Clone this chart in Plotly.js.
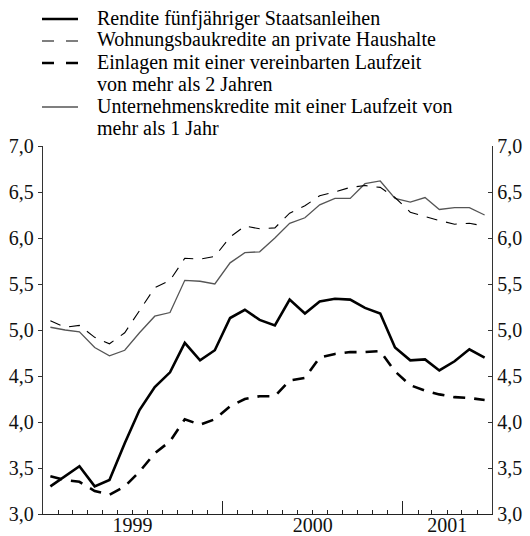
<!DOCTYPE html>
<html><head><meta charset="utf-8">
<script src="https://cdn.plot.ly/plotly-3.0.1.min.js"></script>
<style>html,body{margin:0;padding:0;background:#fff}#chart{width:530px;height:536px}</style>
</head><body><div id="chart"></div><script>
const months = ['1999-01-16','1999-02-15','1999-03-16','1999-04-16','1999-05-16','1999-06-16','1999-07-16','1999-08-16','1999-09-16','1999-10-16','1999-11-16','1999-12-16',
'2000-01-16','2000-02-15','2000-03-16','2000-04-16','2000-05-16','2000-06-16','2000-07-16','2000-08-16','2000-09-16','2000-10-16','2000-11-16','2000-12-16',
'2001-01-16','2001-02-15','2001-03-16','2001-04-16','2001-05-16','2001-06-16'];
const rendite = [3.30,3.41,3.52,3.30,3.37,3.77,4.13,4.38,4.54,4.86,4.67,4.78,5.13,5.22,5.11,5.05,5.33,5.18,5.31,5.34,5.33,5.24,5.18,4.81,4.67,4.68,4.56,4.66,4.79,4.70];
const wohnungsbau = [5.10,5.03,5.05,4.92,4.85,4.97,5.21,5.46,5.54,5.78,5.77,5.80,6.01,6.13,6.10,6.11,6.27,6.35,6.46,6.50,6.55,6.57,6.55,6.44,6.28,6.23,6.19,6.15,6.16,6.13];
const einlagen = [3.41,3.37,3.35,3.25,3.21,3.30,3.46,3.66,3.79,4.03,3.97,4.03,4.17,4.25,4.28,4.28,4.45,4.48,4.70,4.74,4.76,4.76,4.77,4.55,4.40,4.34,4.30,4.27,4.26,4.24];
const unternehmen = [5.03,5.00,4.98,4.81,4.72,4.78,4.97,5.15,5.19,5.54,5.53,5.50,5.73,5.84,5.85,6.00,6.16,6.22,6.36,6.43,6.43,6.59,6.62,6.43,6.39,6.44,6.31,6.33,6.33,6.25];
const yearLabels = ['1999','2000','2001'];
const yearLabelPos = ['1999-07-02','2000-07-02','2001-04-01'];
const yearStarts = ['1999-01-01','2000-01-01','2001-01-01'];
const quarterStarts = ['1999-04-01','1999-07-01','1999-10-01','2000-04-01','2000-07-01','2000-10-01','2001-04-01'];
const legendLines = [
  ['Rendite fünfjähriger Staatsanleihen'],
  ['Wohnungsbaukredite an private Haushalte'],
  ['Einlagen mit einer vereinbarten Laufzeit','von mehr als 2 Jahren'],
  ['Unternehmenskredite mit einer Laufzeit von','mehr als 1 Jahr']
];

const FONT = 'Liberation Serif, serif';
const W=530,H=536,L=43,R=38,T=146,B=22;
const pw=W-L-R, ph=H-T-B;
const px2x = p => (p-L)/pw;
const py2y = p => (H-B-p)/ph;
const XR = ['1999-01-01','2001-07-01'];

const styles = [
  {color:'#000', width:2.6, dash:'solid'},
  {color:'#000', width:1.1, dash:'11px,9px'},
  {color:'#000', width:2.6, dash:'12px,9px'},
  {color:'#555', width:1.3, dash:'solid'}
];
const series = [rendite, wohnungsbau, einlagen, unternehmen];
const order = [3,1,2,0];
const traces = order.map(k => ({
  x: months, y: series[k], type:'scatter', mode:'lines',
  xaxis: k===1 ? 'x2' : (k===2 ? 'x3' : 'x'), yaxis: k===3 ? 'y2' : 'y',
  line:{color:styles[k].color, width:styles[k].width, dash:styles[k].dash},
  hoverinfo:'skip', showlegend:false
}));

const annotations = [], shapes = [];
const rowY = [18, 40, 62, 84, 106, 128];
let r = 0;
legendLines.forEach((lines, k) => {
  shapes.push({type:'line', xref:'paper', yref:'paper', x0:px2x(42), x1:px2x(78), y0:py2y(rowY[r]+1), y1:py2y(rowY[r]+1),
    line:{color:styles[k].color, width:styles[k].width, dash: styles[k].dash==='solid' ? 'solid' : '12px,12px'}});
  lines.forEach(t => {
    annotations.push({text:t, xref:'paper', yref:'paper', x:px2x(95), y:py2y(rowY[r]), xanchor:'left', yanchor:'middle',
      showarrow:false, font:{family:FONT, size:20, color:'#000'}});
    r++;
  });
});

const tf = {family:FONT, size:20, color:'#111'};
const baseX = {type:'date', range:XR, showgrid:false, zeroline:false, fixedrange:true};
const baseY = {range:[3,7], tick0:3, dtick:0.5, tickformat:'.1f', showgrid:false, zeroline:false, fixedrange:true,
  showline:true, linecolor:'#333', linewidth:1.2, tickcolor:'#333', tickwidth:1, ticklen:4, tickfont:tf};

const layout = {
  width:W, height:H, margin:{l:L, r:R, t:T, b:B}, paper_bgcolor:'#fff', plot_bgcolor:'#fff',
  separators:',.', showlegend:false, font:{family:FONT, color:'#111'},
  xaxis: Object.assign({}, baseX, {tickmode:'array', tickvals:quarterStarts, ticktext:quarterStarts.map(()=>''), ticks:'inside', ticklen:8,
    tickcolor:'#222', tickwidth:1, showticklabels:false, showline:true, linecolor:'#222', linewidth:1.2,
    minor:{tickmode:'linear', tick0:'1999-01-01', dtick:'M1', ticks:'inside', ticklen:4, tickcolor:'#222', tickwidth:1}}),
  xaxis2: Object.assign({}, baseX, {overlaying:'x', anchor:'y', side:'bottom', tickmode:'array', tickvals:yearStarts, ticktext:yearStarts.map(()=>''),
    ticks:'inside', ticklen:13, tickcolor:'#222', tickwidth:1.2, showticklabels:false, showline:false}),
  xaxis3: Object.assign({}, baseX, {overlaying:'x', anchor:'y', side:'bottom', tickmode:'array', tickvals:yearLabelPos, ticktext:yearLabels,
    ticks:'', showticklabels:true, tickfont:tf, showline:false, ticklabelstandoff:-3}),
  yaxis: Object.assign({}, baseY, {side:'left', ticks:'outside'}),
  yaxis2: Object.assign({}, baseY, {side:'right', overlaying:'y', anchor:'x', ticks:'inside'}),
  annotations, shapes
};
Plotly.newPlot('chart', traces, layout, {staticPlot:true, displayModeBar:false});
</script></body></html>
